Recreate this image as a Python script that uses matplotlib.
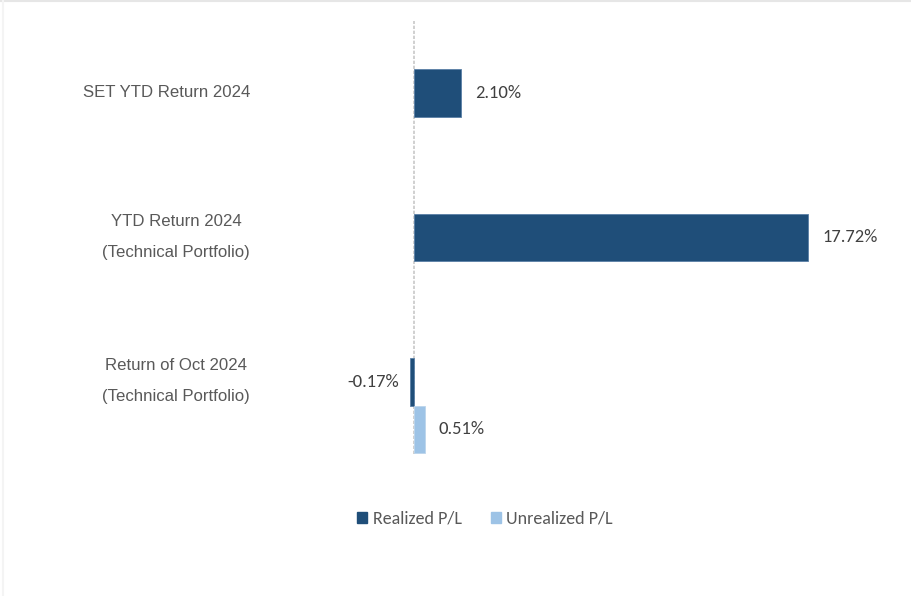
import numpy as np
import matplotlib
matplotlib.use("Agg")
import matplotlib.pyplot as plt
from matplotlib.patches import Patch

categories = ["SET YTD Return 2024",
              "YTD Return 2024\n(Technical Portfolio)",
              "Return of Oct 2024\n(Technical Portfolio)"]
realized = [2.10, 17.72, -0.17]
unrealized = [np.nan, np.nan, 0.51]
series_names = ["Realized P/L", "Unrealized P/L"]

dark = "#1F4E79"
light = "#9DC3E6"

W, H = 912, 596
fig = plt.figure(figsize=(W / 100, H / 100), dpi=100)
fig.patch.set_facecolor("white")

left_px, right_px, top_px, bot_px = 100, 880, 21, 454
ax = fig.add_axes([left_px / W, 1 - bot_px / H, (right_px - left_px) / W, (bot_px - top_px) / H])
zero_px = 414
scale = (808 - zero_px) / 17.72
ax.set_xlim(-(zero_px - left_px) / scale, (right_px - zero_px) / scale)
ax.set_ylim(2.5, -0.5)

y = np.arange(len(categories))
h = 0.33
ax.barh(y, realized, height=h, color=dark, edgecolor="#5A7FA6", linewidth=0.6, zorder=3)
ax.barh(y + h, unrealized, height=h, color=light, edgecolor="#BCD5EC", linewidth=0.6, zorder=3)

ax.axvline(0, color="#C8C8C8", linewidth=1.2, linestyle=(0, (2, 1)), zorder=2)

for s in ax.spines.values():
    s.set_visible(False)
ax.set_xticks([])
ax.set_yticks([])

val_font = dict(family=["Carlito", "Lato", "DejaVu Sans"], fontsize=13.3, color="#404040")
for yi, v in zip(y, realized):
    if np.isnan(v):
        continue
    if v >= 0:
        ax.text(v + 14 / scale, yi, f"{v:.2f}%", ha="left", va="center", **val_font)
    else:
        ax.text(v - 11 / scale, yi, f"{v:.2f}%", ha="right", va="center", **val_font)
for yi, v in zip(y, unrealized):
    if np.isnan(v):
        continue
    ax.text(v + 13 / scale, yi + h, f"{v:.2f}%", ha="left", va="center", **val_font)

for yi, c in zip(y, categories):
    ax.text(-(zero_px - 250) / scale, yi - 0.005, c, ha="right", va="center", multialignment="center",
            family=["Liberation Sans", "DejaVu Sans"], fontsize=12.1, color="#595959", linespacing=2.35)

handles = [Patch(facecolor=dark, edgecolor=dark), Patch(facecolor=light, edgecolor=light)]
leg = fig.legend(handles, series_names, loc="center", bbox_to_anchor=(485 / W, 1 - 519 / H),
                 ncol=2, frameon=False, handlelength=0.55, handleheight=0.55, handletextpad=0.3,
                 columnspacing=1.6, prop={"family": ["Carlito", "Lato", "DejaVu Sans"], "size": 13})
for t in leg.get_texts():
    t.set_color("#595959")

fig.add_artist(plt.Line2D([0, 1], [1 - 1 / H, 1 - 1 / H], transform=fig.transFigure, color="#E6E6E6", linewidth=1.5))
fig.add_artist(plt.Line2D([3 / W, 3 / W], [0, 1], transform=fig.transFigure, color="#F4F4F4", linewidth=1.5))

fig.savefig("out.png", dpi=100, facecolor="white")
